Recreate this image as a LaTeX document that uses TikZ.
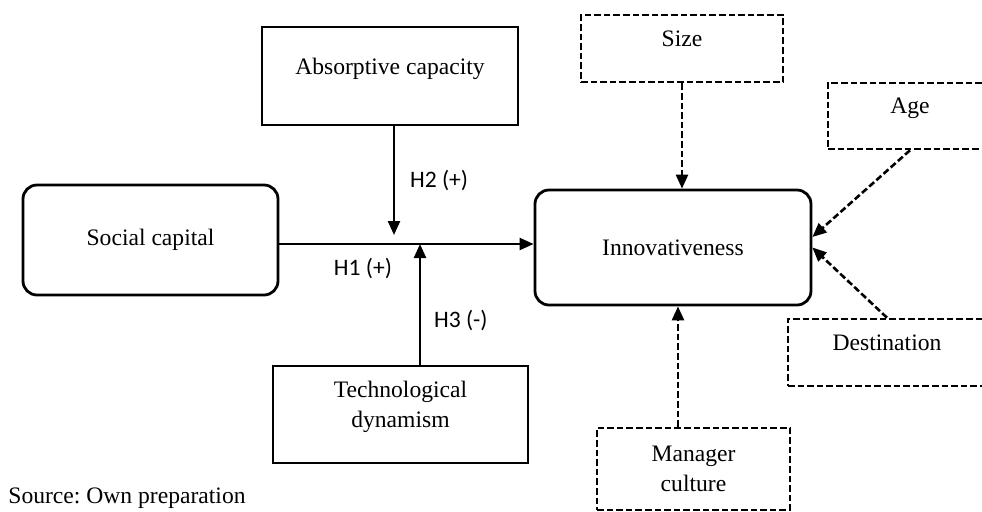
\documentclass[tikz,border=0pt]{standalone}
\usepackage{fontspec}
\setmainfont{Liberation Serif}
\newfontfamily\hypfont{Carlito}
\usetikzlibrary{arrows.meta}
\frenchspacing

\tikzset{
	solidbox/.style={draw,line width=1.4pt,inner sep=0pt},
	roundbox/.style={solidbox,rounded corners=7pt},
	dashbox/.style={draw,line width=1.3pt,dash pattern=on 3.3pt off 1.5pt,inner sep=0pt},
	textup/.style={text depth=10pt},
	arr/.style={line width=1.2pt,-{Triangle[length=7pt,width=6pt]}},
	darr/.style={arr,line width=1.3pt,dash pattern=on 3.3pt off 1.5pt},
	hyp/.style={font=\hypfont\fontsize{11.8}{13}\selectfont}
}

\begin{document}
\begin{tikzpicture}[x=0.5pt,y=-0.5pt,font=\fontsize{11.8}{15}\selectfont]
	\useasboundingbox (0,0) rectangle (982,511);
	\clip (0,0) rectangle (982,511);
	
	%MAIN CONSTRUCTS
	\node[roundbox,minimum width=127.5pt,minimum height=55pt] (social) at (150.5,240) {Social capital};
	\node[roundbox,minimum width=138pt,minimum height=57.5pt] (innov) at (673,247.5) {Innovativeness};
	
	%MODERATORS
	\node[solidbox,textup,minimum width=128pt,minimum height=49pt] (absorb) at (390,76) {Absorptive capacity};
	\node[solidbox,textup,align=center,minimum width=127.5pt,minimum height=48.5pt] (techdyn) at (400.5,414.5) {Technological\\dynamism};
	
	%CONTROLS
	\node[dashbox,textup,minimum width=101pt,minimum height=33.5pt] (size) at (682,48.5) {Size};
	\node[dashbox,textup,minimum width=82pt,minimum height=33pt] (age) at (910,116) {Age};
	\node[dashbox,textup,minimum width=99pt,minimum height=33.5pt] (dest) at (887,352.5) {Destination};
	\node[dashbox,align=center,minimum width=96.5pt,minimum height=41pt] (manager) at (693.5,469) {Manager\\culture};
	
	%HYPOTHESIS ARROWS
	\coordinate (h1y) at (0,244);
	\coordinate (h2tip) at (394,235);
	\coordinate (h3tip) at (420,244);
	\draw[arr] (social.east |- h1y) -- (innov.west |- h1y);
	\draw[arr] (absorb.south -| h2tip) -- (h2tip);
	\draw[arr] (techdyn.north -| h3tip) -- (h3tip);
	\node[hyp] (h1) at (363,268) {H1 (+)};
	\node[hyp,anchor=west] (h2) at (403,180) {H2 (+)};
	\node[hyp,anchor=west] (h3) at (427,320) {H3 (-)};
	
	%CONTROL ARROWS
	\coordinate (mcx) at (678,0);
	\coordinate (agey) at (0,237);
	\draw[darr] (size.south) -- (size.south |- innov.north);
	\draw[darr] (manager.north -| mcx) -- (innov.south -| mcx);
	\draw[darr] (age.south) -- (innov.east |- agey);
	\draw[darr] (dest.north) -- (innov.east);
	
	\node[anchor=base west,inner sep=0pt] (source) at (8,503) {Source: Own preparation};
\end{tikzpicture}
\end{document}
